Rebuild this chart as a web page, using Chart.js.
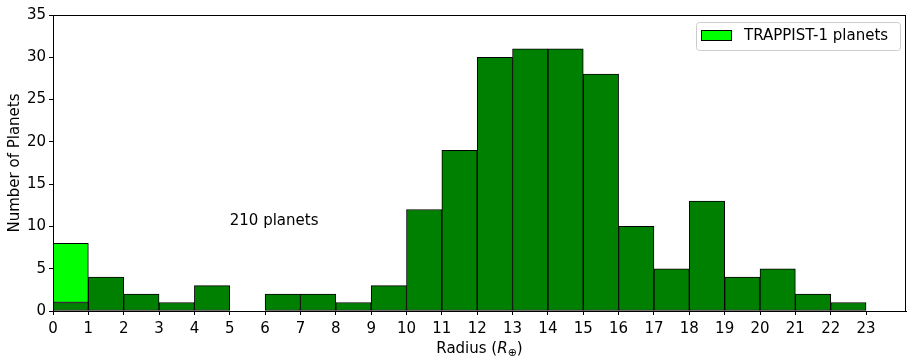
<!DOCTYPE html>
<html lang="en">
<head>
    <meta charset="UTF-8">
    <title>Planet radius histogram</title>
    <script src="https://cdn.jsdelivr.net/npm/chart.js"></script>
    <style>
        html, body { margin: 0; padding: 0; background: #ffffff; }
        .wrap { width: 907px; height: 356px; position: relative; }
    </style>
</head>
<body>
<div class="wrap"><canvas id="hist" width="907" height="356"></canvas></div>
<script>
    // bin centres (bins are 1 R_earth wide, 0..23)
    const binCenters = [0.5, 1.5, 2.5, 3.5, 4.5, 5.5, 6.5, 7.5, 8.5, 9.5, 10.5, 11.5,
                        12.5, 13.5, 14.5, 15.5, 16.5, 17.5, 18.5, 19.5, 20.5, 21.5, 22.5];
    // all planets per bin
    const allCounts = [1, 4, 2, 1, 3, 0, 2, 2, 1, 3, 12, 19, 30, 31, 31, 28, 10, 5, 13, 4, 5, 2, 1];
    // TRAPPIST-1 planets per bin (stacked on top)
    const trappistCounts = [7, 0, 0, 0, 0, 0, 0, 0, 0, 0, 0, 0, 0, 0, 0, 0, 0, 0, 0, 0, 0, 0, 0];
    const xTicks = [0, 1, 2, 3, 4, 5, 6, 7, 8, 9, 10, 11, 12, 13, 14, 15, 16, 17, 18, 19, 20, 21, 22, 23];
    const yTicks = [0, 5, 10, 15, 20, 25, 30, 35];
    const noteText = '210 planets';
    const legendText = 'TRAPPIST-1 planets';

    const FONT = 'DejaVu Sans';
    const FS = 15;

    // frame, annotation, legend, axis titles
    const extras = {
        id: 'extras',
        afterDraw(chart) {
            const ctx = chart.ctx;
            const a = chart.chartArea;
            const xs = chart.scales.x, ys = chart.scales.y;
            const f = (style, size) => style + ' ' + size + 'px "' + FONT + '"';
            ctx.save();
            // box round the plot
            ctx.strokeStyle = '#000';
            ctx.lineWidth = 1;
            ctx.strokeRect(a.left + 0.5, a.top + 0.5, a.right - a.left - 1, a.bottom - a.top);

            // annotation
            ctx.fillStyle = '#000';
            ctx.font = f('', FS);
            ctx.textBaseline = 'alphabetic';
            ctx.textAlign = 'left';
            ctx.fillText(noteText, xs.getPixelForValue(5), ys.getPixelForValue(10) - 1);

            // legend box
            const lx = 696, ly = 22, lw = 204, lh = 28;
            ctx.fillStyle = 'rgba(255,255,255,0.8)';
            ctx.strokeStyle = '#cccccc';
            ctx.beginPath();
            ctx.roundRect(lx + 0.5, ly + 0.5, lw, lh, 3);
            ctx.fill();
            ctx.stroke();
            ctx.fillStyle = '#00ff00';
            ctx.fillRect(701, 30, 31, 11);
            ctx.strokeStyle = '#000';
            ctx.strokeRect(701.5, 30.5, 30, 10);
            ctx.fillStyle = '#000';
            ctx.font = f('', FS);
            ctx.textBaseline = 'middle';
            ctx.fillText(legendText, 744, 36);

            // x title: Radius (R⊕)
            const y0 = 353;
            ctx.textBaseline = 'alphabetic';
            const p1 = 'Radius (', p3 = ')';
            ctx.font = f('', FS);
            const w1 = ctx.measureText(p1).width, w3 = ctx.measureText(p3).width;
            ctx.font = f('italic', FS);
            const w2 = ctx.measureText('R').width;
            ctx.font = f('', 11);
            const w4 = ctx.measureText('⊕').width;
            let x = (a.left + a.right) / 2 - (w1 + w2 + w4 + w3) / 2;
            ctx.font = f('', FS);
            ctx.fillText(p1, x, y0); x += w1;
            ctx.font = f('italic', FS);
            ctx.fillText('R', x, y0); x += w2;
            ctx.font = f('', 11);
            ctx.fillText('⊕', x, y0 + 3); x += w4;
            ctx.font = f('', FS);
            ctx.fillText(p3, x, y0);

            // y title
            ctx.translate(15, (a.top + a.bottom) / 2);
            ctx.rotate(-Math.PI / 2);
            ctx.textAlign = 'center';
            ctx.textBaseline = 'middle';
            ctx.fillText('Number of Planets', 0, 0);
            ctx.restore();
        }
    };

    new Chart(document.getElementById('hist'), {
        type: 'bar',
        data: {
            datasets: [{
                label: 'All planets',
                data: binCenters.map((c, i) => ({ x: c, y: allCounts[i] })),
                backgroundColor: '#008000',
                borderColor: '#000000',
                borderWidth: 1,
                borderSkipped: false
            }, {
                label: legendText,
                data: binCenters.map((c, i) => ({ x: c, y: trappistCounts[i] })),
                backgroundColor: '#00ff00',
                borderColor: '#000000',
                borderWidth: 1,
                borderSkipped: false
            }]
        },
        options: {
            responsive: false,
            animation: false,
            events: [],
            barPercentage: 1.0,
            categoryPercentage: 1.0,
            layout: { padding: { top: 15, right: 1, left: 0, bottom: 0 } },
            plugins: { legend: { display: false }, tooltip: { enabled: false } },
            scales: {
                x: {
                    type: 'linear',
                    stacked: true,
                    offset: false,
                    min: 0,
                    max: 24.13,
                    afterBuildTicks: s => { s.ticks = xTicks.map(v => ({ value: v })); },
                    afterFit: s => { s.height = 45; },
                    grid: { offset: false, drawOnChartArea: false, color: '#000', tickLength: 4, tickWidth: 1 },
                    border: { color: '#000' },
                    ticks: { color: '#000', font: { family: FONT, size: FS }, padding: 5, maxRotation: 0, autoSkip: false }
                },
                y: {
                    stacked: true,
                    min: 0,
                    max: 35,
                    afterBuildTicks: s => { s.ticks = yTicks.map(v => ({ value: v })); },
                    afterFit: s => { s.width = 53; },
                    grid: { drawOnChartArea: false, color: '#000', tickLength: 4, tickWidth: 1 },
                    border: { color: '#000' },
                    ticks: { color: '#000', font: { family: FONT, size: FS }, padding: 3 }
                }
            }
        },
        plugins: [extras]
    });
</script>
</body>
</html>
